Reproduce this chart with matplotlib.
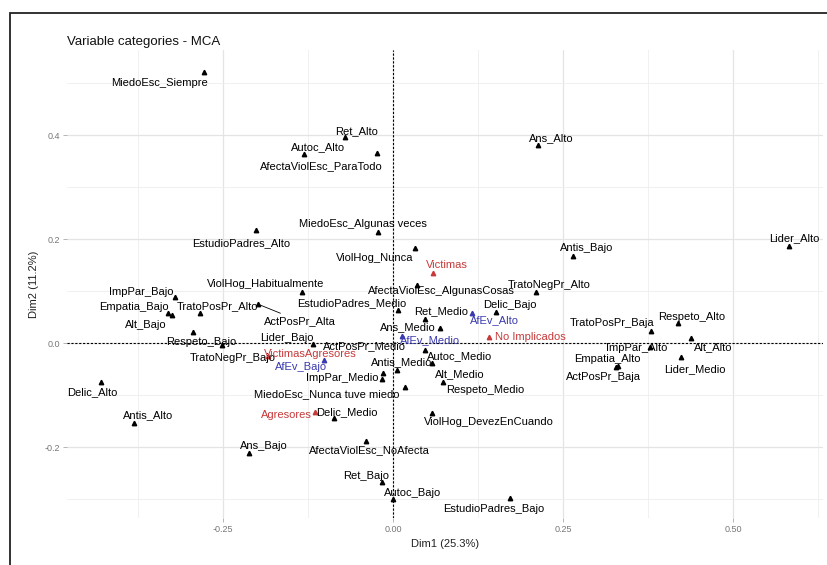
import matplotlib
matplotlib.use('Agg')
import matplotlib.pyplot as plt
from matplotlib.patches import Rectangle

plt.rcParams['font.family'] = ['Liberation Sans', 'DejaVu Sans']

# category coordinates on Dim1 / Dim2
categories = ['MiedoEsc_Siempre', 'Ret_Alto', 'Autoc_Alto', 'AfectaViolEsc_ParaTodo',
              'MiedoEsc_Algunas veces', 'EstudioPadres_Alto', 'ViolHog_Nunca', 'Ans_Alto',
              'Antis_Bajo', 'Lider_Alto', 'Victimas', 'AfectaViolEsc_AlgunasCosas',
              'TratoNegPr_Alto', 'Delic_Bajo', 'EstudioPadres_Medio', 'Ret_Medio',
              'AfEv_Alto', 'Ans_Medio', 'AfEv_Medio', 'No Implicados', 'Autoc_Medio',
              'Antis_Medio', 'ActPosPr_Medio', 'ImpPar_Medio', 'MiedoEsc_Nunca tuve miedo',
              'Alt_Medio', 'Respeto_Medio', 'TratoPosPr_Baja', 'Respeto_Alto', 'ImpPar_Alto',
              'Alt_Alto', 'Empatia_Alto', 'ActPosPr_Baja', 'Lider_Medio', 'ImpPar_Bajo',
              'Empatia_Bajo', 'Alt_Bajo', 'TratoPosPr_Alto', 'ActPosPr_Alta',
              'ViolHog_Habitualmente', 'Respeto_Bajo', 'TratoNegPr_Bajo', 'Lider_Bajo',
              'VictimasAgresores', 'AfEv_Bajo', 'Delic_Alto', 'Antis_Alto', 'Agresores',
              'Delic_Medio', 'ViolHog_DevezEnCuando', 'AfectaViolEsc_NoAfecta', 'Ans_Bajo',
              'Ret_Bajo', 'Autoc_Bajo', 'EstudioPadres_Bajo']
dim1 = [-0.278, -0.071, -0.131, -0.024, -0.022, -0.201, 0.032, 0.213, 0.265, 0.582,
        0.059, 0.035, 0.210, 0.151, 0.007, 0.047, 0.116, 0.069, 0.013, 0.141,
        0.047, 0.057, 0.006, -0.015, -0.016, 0.018, 0.074, 0.379, 0.419, 0.378,
        0.438, 0.331, 0.328, 0.424, -0.321, -0.331, -0.325, -0.284, -0.199, -0.134,
        -0.294, -0.251, -0.118, -0.184, -0.101, -0.429, -0.381, -0.115, -0.087, 0.057,
        -0.040, -0.212, -0.016, 0.000, 0.172]
dim2 = [0.521, 0.396, 0.363, 0.365, 0.213, 0.217, 0.183, 0.381, 0.167, 0.187,
        0.135, 0.112, 0.098, 0.060, 0.063, 0.046, 0.058, 0.029, 0.013, 0.012,
        -0.013, -0.038, -0.052, -0.058, -0.069, -0.085, -0.075, 0.023, 0.038, -0.008,
        0.010, -0.044, -0.046, -0.027, 0.088, 0.058, 0.054, 0.058, 0.075, 0.098,
        0.021, -0.004, -0.002, -0.025, -0.033, -0.075, -0.154, -0.133, -0.144, -0.135,
        -0.188, -0.212, -0.267, -0.300, -0.298]
# variable group: 'act' active, 'sup' supplementary role, 'afev' supplementary AfEv
groups = ['act'] * 55
for name in ['Victimas', 'No Implicados', 'VictimasAgresores', 'Agresores']:
    groups[categories.index(name)] = 'sup'
for name in ['AfEv_Alto', 'AfEv_Medio', 'AfEv_Bajo']:
    groups[categories.index(name)] = 'afev'

# label placement (pixels from the point), like ggrepel output
label_offsets = [(-44, -11), (12, 6), (14, 7), (-55, -13), (-15, 8), (-15, -13), (-40, -10),
                 (14, 7), (14, 8), (6, 8), (14, 8), (25, -6), (13, 7), (14, 7), (-46, 7),
                 (16, 8), (23, -7), (-32, 1), (28, -4), (42, 0), (35, -6), (-30, 1),
                 (-33, 24), (-41, -5), (-55, -15), (55, 13), (42, -8), (-39, 8), (14, 6),
                 (-13, -1), (22, -9), (-11, 7), (-12, -10), (14, -12), (-33, 5), (-34, 6),
                 (-26, -10), (18, 7), (42, -17), (-36, 8), (8, -10), (10, -13), (-26, 6),
                 (42, 2), (-23, -7), (-9, -10), (14, 8), (-28, -3), (13, 6), (57, -9),
                 (4, -9), (15, 7), (-16, 6), (20, 6), (-16, -11)]

colors = {'act': 'black', 'sup': '#c83a3a', 'afev': '#3a3ab0'}

fig = plt.figure(figsize=(8.28, 5.65), dpi=100)
ax = fig.add_axes([0.0809, 0.0832, 0.913, 0.8283])

ax.set_xlim(-0.4794, 0.6324)
ax.set_ylim(-0.3365, 0.5635)
ax.set_xticks([-0.25, 0, 0.25, 0.5])
ax.set_xticklabels(['-0.25', '0.00', '0.25', '0.50'])
ax.set_yticks([-0.2, 0, 0.2, 0.4])
ax.set_yticklabels(['-0.2', '0.0', '0.2', '0.4'])
ax.set_xticks([-0.375, -0.125, 0.125, 0.375, 0.625], minor=True)
ax.set_yticks([-0.3, -0.1, 0.1, 0.3, 0.5], minor=True)
ax.grid(which='major', color='#e4e4e4', lw=0.9)
ax.grid(which='minor', color='#eeeeee', lw=0.6)
ax.set_axisbelow(True)
for s in ax.spines.values():
    s.set_visible(False)
ax.tick_params(which='major', length=3, width=0.5, color='#999999', labelsize=6.5,
               labelcolor='#777777', pad=2)
ax.tick_params(which='minor', length=0)

ax.axhline(0, color='black', lw=0.8, ls=(0, (2, 1.5)), zorder=1)
ax.axvline(0, color='black', lw=0.8, ls=(0, (2, 1.5)), zorder=1)

for i, name in enumerate(categories):
    c = colors[groups[i]]
    ax.plot(dim1[i], dim2[i], marker='^', ms=3.2, color=c, ls='none', zorder=3)
    dx, dy = label_offsets[i]
    arrow = None
    if name == 'ActPosPr_Alta':
        arrow = dict(arrowstyle='-', color='black', lw=0.6, shrinkA=0, shrinkB=2)
    ax.annotate(name, (dim1[i], dim2[i]), xytext=(dx, dy), textcoords='offset pixels',
                ha='center', va='center', fontsize=8, color=c, zorder=4,
                arrowprops=arrow)

ax.set_xlabel('Dim1 (25.3%)', fontsize=8, color='#222222', labelpad=4)
ax.set_ylabel('Dim2 (11.2%)', fontsize=8, color='#222222', labelpad=4)
fig.text(67 / 828, 1 - 42 / 565, 'Variable categories - MCA', fontsize=9.5,
         ha='left', va='center', color='#111111')

# frame of the original screenshot
fig.patches.append(Rectangle((10 / 828, -0.05), 1.1, 1 - 13 / 565 + 0.05,
                             transform=fig.transFigure, fill=False,
                             edgecolor='#222222', lw=1.3))

fig.savefig('out.png', dpi=100)
